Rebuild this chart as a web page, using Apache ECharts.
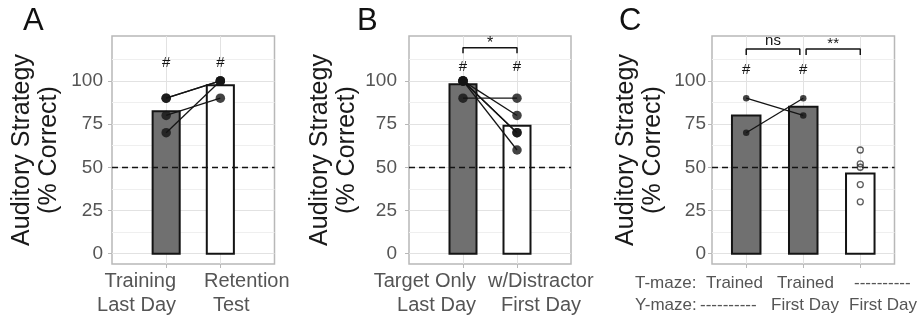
<!DOCTYPE html>
<html>
<head>
<meta charset="utf-8">
<script src="https://cdn.jsdelivr.net/npm/echarts@6/dist/echarts.min.js"></script>
<style>
  html, body { margin: 0; padding: 0; background: #ffffff; }
  #chart { width: 918px; height: 322px; }
</style>
</head>
<body>
<div id="chart"></div>
<script>
// ---- Panel A: training last day vs retention test (paired animals) ----
const aCategoryLines = [['Training', 'Last Day'], ['Retention', 'Test']];
const aBars = [82.5, 97.5];
const aBefore = [90, 90, 80, 70];
const aAfter = [100, 100, 90, 100];
const aHashY = [110.4, 110.4];

// ---- Panel B: target only vs with distractor ----
const bCategoryLines = [['Target Only', 'Last Day'], ['w/Distractor', 'First Day']];
const bBars = [98, 74];
const bBefore = [100, 100, 100, 100, 90];
const bAfter = [80, 70, 70, 60, 90];
const bHashY = [108.4, 108.4];
const bBrackets = [[1, 2, '*']];

// ---- Panel C: T-maze / Y-maze transfer ----
const cTMazeRow = ['T-maze:', 'Trained', 'Trained', '----------'];
const cYMazeRow = ['Y-maze:', '----------', 'First Day', 'First Day'];
const cBars = [80, 85, 46.4];
const cTrainedT = [90, 70];
const cTrainedY = [80, 90];
const cNaive = [60, 52, 50, 40, 30];
const cHashY = [106.5, 106.5];
const cBrackets = [[1, 1.94, 'ns'], [2.05, 3, '**']];

// ---- shared scale values ----
const yTicks = [0, 25, 50, 75, 100];
const yMinorTicks = [12.5, 37.5, 62.5, 87.5, 112.5];
const chanceLevel = 50;
const yTitle = ['Auditory Strategy', '(% Correct)'];
const panelLetters = ['A', 'B', 'C'];

const FONT = '"Liberation Sans", Arial, Helvetica, sans-serif';
const INK = '#141414';
const TICK_TEXT = '#555555';
const FRAME = '#b8b8b8';
const GRID_MAJOR = '#e2e2e2';
const GRID_MINOR = '#efefef';
const BAR_DARK = '#707070';
const BAR_LIGHT = '#ffffff';

const grids = [
  { left: 112, top: 36, width: 162.5, height: 228 },
  { left: 409, top: 36, width: 162, height: 228 },
  { left: 712, top: 36, width: 182.5, height: 228 }
];
const xRanges = [[0, 3], [0, 3], [0.4, 3.6]];
const xCats = [[1, 2], [1, 2], [1, 2, 3]];
const yLabelMargin = [9, 12, 6];

const xAxes = grids.map((g, i) => ({
  type: 'value', gridIndex: i, min: xRanges[i][0], max: xRanges[i][1],
  axisLine: { show: false, onZero: false },
  axisTick: { show: true, customValues: xCats[i], length: 4, lineStyle: { color: FRAME, width: 1 } },
  axisLabel: { show: false, customValues: xCats[i] },
  splitLine: { show: true, lineStyle: { color: GRID_MAJOR, width: 1 } }
}));

const yAxes = [];
grids.forEach((g, i) => {
  yAxes.push({
    type: 'value', gridIndex: i, min: -6, max: 126,
    axisLine: { show: false, onZero: false },
    axisTick: { show: true, customValues: yTicks, length: 4, lineStyle: { color: FRAME, width: 1 } },
    axisLabel: { customValues: yTicks, fontSize: 19, color: TICK_TEXT, fontFamily: FONT, margin: yLabelMargin[i] },
    splitLine: { show: true, lineStyle: { color: GRID_MAJOR, width: 1 } }
  });
  yAxes.push({
    type: 'value', gridIndex: i, min: -6, max: 126, position: 'left',
    axisLine: { show: false, onZero: false },
    axisTick: { show: false, customValues: yMinorTicks },
    axisLabel: { show: false },
    splitLine: { show: true, lineStyle: { color: GRID_MINOR, width: 1 } }
  });
});

function barSeries(gi, values, fills) {
  return {
    type: 'custom', xAxisIndex: gi, yAxisIndex: 2 * gi, z: 2, silent: true,
    data: values.map((v, k) => ({ value: [k + 1, v], itemStyle: { color: fills[k] } })),
    renderItem(params, api) {
      const x = api.value(0), y = api.value(1);
      const lo = api.coord([x - 0.25, 0]);
      const hi = api.coord([x + 0.25, y]);
      return {
        type: 'rect',
        shape: { x: lo[0], y: hi[1], width: hi[0] - lo[0], height: lo[1] - hi[1] },
        style: { fill: api.visual('color'), stroke: INK, lineWidth: 2 }
      };
    }
  };
}

function chanceSeries(gi) {
  return {
    type: 'line', xAxisIndex: gi, yAxisIndex: 2 * gi, data: [], z: 3, silent: true,
    markLine: {
      silent: true, symbol: ['none', 'none'], label: { show: false },
      lineStyle: { type: [6, 4], color: INK, width: 1.4 },
      data: [{ yAxis: chanceLevel }], animation: false
    }
  };
}

function pairedLines(gi, before, after, xs) {
  return before.map((b, k) => ({
    type: 'line', xAxisIndex: gi, yAxisIndex: 2 * gi, z: 4, silent: true,
    data: [[xs[0], b], [xs[1], after[k]]],
    symbol: 'none', showSymbol: false,
    lineStyle: { color: INK, width: 1.3 }
  }));
}

function dots(gi, before, after, xs, size) {
  return {
    type: 'scatter', xAxisIndex: gi, yAxisIndex: 2 * gi, z: 5, silent: true,
    symbolSize: size, itemStyle: { color: INK },
    data: before.map(v => [xs[0], v]).concat(after.map(v => [xs[1], v]))
  };
}

function bracketLines(gi, brackets, top, foot) {
  return brackets.map(b => ({
    type: 'line', xAxisIndex: gi, yAxisIndex: 2 * gi, z: 4, silent: true,
    data: [[b[0], foot], [b[0], top], [b[1], top], [b[1], foot]],
    symbol: 'none', showSymbol: false,
    lineStyle: { color: INK, width: 1.5 }
  }));
}

function textSeries(gi, xs, ys, texts, size) {
  return {
    type: 'custom', xAxisIndex: gi, yAxisIndex: 2 * gi, z: 6, silent: true,
    data: xs.map((x, k) => [x, ys[k]]),
    renderItem(params, api) {
      const p = api.coord([api.value(0), api.value(1)]);
      return {
        type: 'text', x: p[0], y: p[1],
        style: { text: texts[params.dataIndex], fontSize: size, fontFamily: FONT, fill: INK, align: 'center', verticalAlign: 'middle' }
      };
    }
  };
}

const series = [
  // A
  barSeries(0, aBars, [BAR_DARK, BAR_LIGHT]),
  chanceSeries(0),
  ...pairedLines(0, aBefore, aAfter, [1, 2]),
  dots(0, aBefore, aAfter, [1, 2], 9.5),
  textSeries(0, [1, 2], aHashY, ['#', '#'], 15),
  // B
  barSeries(1, bBars, [BAR_DARK, BAR_LIGHT]),
  chanceSeries(1),
  ...pairedLines(1, bBefore, bAfter, [1, 2]),
  dots(1, bBefore, bAfter, [1, 2], 9.5),
  textSeries(1, [1, 2], bHashY, ['#', '#'], 15),
  ...bracketLines(1, bBrackets, 119.2, 116),
  textSeries(1, bBrackets.map(b => (b[0] + b[1]) / 2), [121.7], bBrackets.map(b => b[2]), 16),
  // C
  barSeries(2, cBars, [BAR_DARK, BAR_DARK, BAR_LIGHT]),
  chanceSeries(2),
  ...pairedLines(2, cTrainedT, cTrainedY, [1, 2]),
  dots(2, cTrainedT, cTrainedY, [1, 2], 6.5),
  {
    type: 'scatter', xAxisIndex: 2, yAxisIndex: 4, z: 5, silent: true,
    symbolSize: 6, itemStyle: { color: 'rgba(0,0,0,0)', borderColor: '#333333', borderWidth: 1.3 },
    data: cNaive.map(v => [3, v])
  },
  textSeries(2, [1, 2], cHashY, ['#', '#'], 15),
  ...bracketLines(2, cBrackets, 118.5, 115),
  textSeries(2, cBrackets.map(b => (b[0] + b[1]) / 2), [123, 121.7], cBrackets.map(b => b[2]), 15)
];

// Text laid out around the panels: letters, axis titles, category captions
function txt(text, x, y, size, fill, align, extra) {
  return Object.assign({
    type: 'text', x: x, y: y, silent: true,
    style: { text: text, fontSize: size, fontFamily: FONT, fill: fill, align: align, verticalAlign: 'middle' }
  }, extra || {});
}
const titleX = [[22.5, 49], [320, 346.8], [626, 652.8]];
const letterX = [23, 357, 619];
const graphic = [];
panelLetters.forEach((l, i) => graphic.push(txt(l, letterX[i], 21, 31, '#111111', 'left')));
titleX.forEach(pair => {
  graphic.push(txt(yTitle[0], pair[0], 150, 25, '#1a1a1a', 'center', { rotation: Math.PI / 2 }));
  graphic.push(txt(yTitle[1], pair[1], 150, 25, '#1a1a1a', 'center', { rotation: Math.PI / 2 }));
});
// A captions
graphic.push(txt(aCategoryLines[0][0], 176, 281, 20, TICK_TEXT, 'right'));
graphic.push(txt(aCategoryLines[0][1], 176, 305, 20, TICK_TEXT, 'right'));
graphic.push(txt(aCategoryLines[1][0], 204, 281, 20, TICK_TEXT, 'left'));
graphic.push(txt(aCategoryLines[1][1], 213, 305, 20, TICK_TEXT, 'left'));
// B captions
graphic.push(txt(bCategoryLines[0][0], 476, 281, 20, TICK_TEXT, 'right'));
graphic.push(txt(bCategoryLines[0][1], 476, 305, 20, TICK_TEXT, 'right'));
graphic.push(txt(bCategoryLines[1][0], 488, 281, 20, TICK_TEXT, 'left'));
graphic.push(txt(bCategoryLines[1][1], 501, 305, 20, TICK_TEXT, 'left'));
// C caption table
const cRowX1 = [635, 706, 777, 854];
const cRowX2 = [635, 700, 771, 849];
cTMazeRow.forEach((t, k) => graphic.push(txt(t, cRowX1[k], 283.5, 17, TICK_TEXT, 'left')));
cYMazeRow.forEach((t, k) => graphic.push(txt(t, cRowX2[k], 305.5, 17, TICK_TEXT, 'left')));

const chart = echarts.init(document.getElementById('chart'), null, { renderer: 'canvas' });
chart.setOption({
  animation: false,
  backgroundColor: '#ffffff',
  textStyle: { fontFamily: FONT },
  grid: grids.map(g => Object.assign({ show: true, borderColor: FRAME, borderWidth: 1.5, backgroundColor: '#ffffff', containLabel: false }, g)),
  xAxis: xAxes,
  yAxis: yAxes,
  series: series,
  graphic: graphic
});
</script>
</body>
</html>
